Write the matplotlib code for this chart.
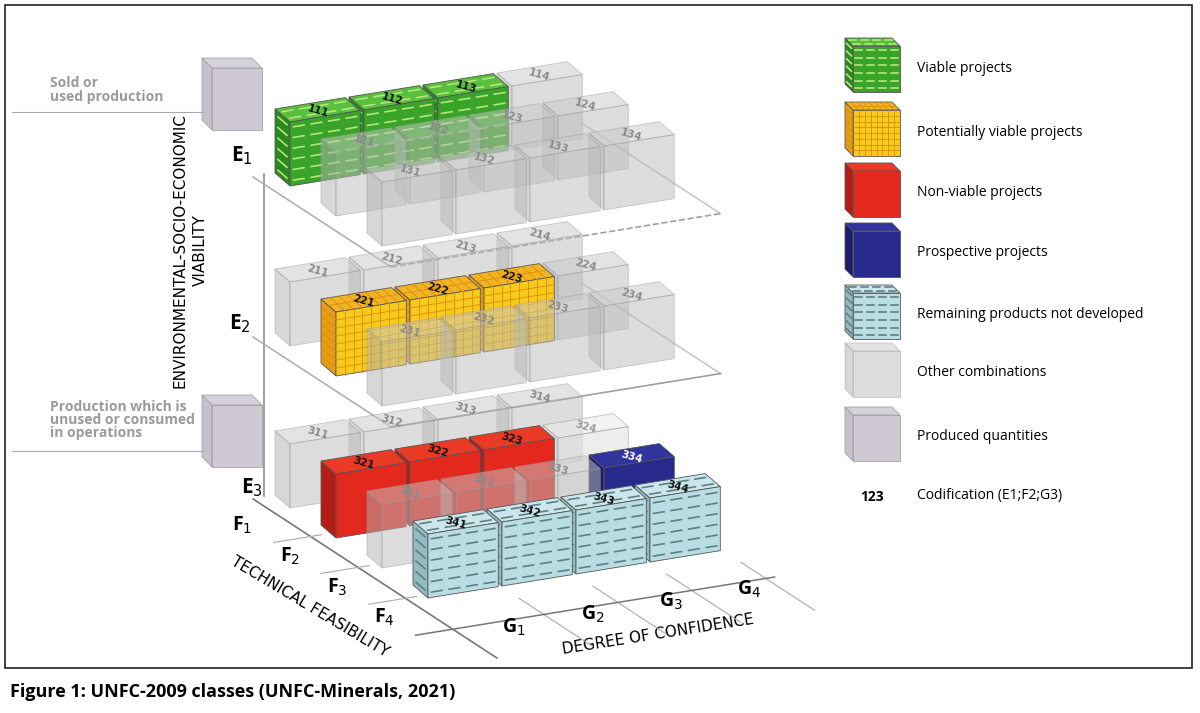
import numpy as np
import matplotlib
matplotlib.use("Agg")
import matplotlib.pyplot as plt
from matplotlib.patches import Polygon, Rectangle

plt.rcParams["font.family"] = ["Open Sans", "DejaVu Sans"]

# ---------------------------------------------------------------
# data: UNFC classes (E level, F rows, G columns) and categories
# ---------------------------------------------------------------
LEVELS = ["E1", "E2", "E3"]
ROWS_PER_LEVEL = [3, 3, 4]          # F rows present on each E level
N_G = 4
VIABLE = ["111", "112", "113"]
POTENTIAL = ["221", "222", "223"]
NON_VIABLE = ["321", "322", "323"]
PROSPECTIVE = ["334"]
REMAINING = ["341", "342", "343", "344"]
LIGHT = ["324"]

LEGEND_LABELS = ["Viable projects", "Potentially viable projects", "Non-viable projects",
                 "Prospective projects", "Remaining products not developed",
                 "Other combinations", "Produced quantities"]
LEGEND_KINDS = ["green", "yellow", "red", "blue", "cyan", "gray", "produced"]

F_LABELS = ["F$_1$", "F$_2$", "F$_3$", "F$_4$"]
G_LABELS = ["G$_1$", "G$_2$", "G$_3$", "G$_4$"]

# ---------------------------------------------------------------
# projection (pixel space, y downwards)
# ---------------------------------------------------------------
G = np.array([74.0, -12.0])
F = np.array([46.0, 30.0])
BASE = {"E1": np.array([290.0, 186.0]),
        "E2": np.array([290.0, 346.0]),
        "E3": np.array([290.0, 508.0])}
H = 64.0
DEPTH = np.array([-15.0, -13.0])

STYLE = {
    "green":  dict(front="#3aa42a", top="#58c03c", left="#2a8a20", alpha=1, pat="dash", pc="#b2e67a"),
    "yellow": dict(front="#f8ca1e", top="#f2b324", left="#e59b14", alpha=1, pat="grid", pc="#d98e00"),
    "red":    dict(front="#e3281e", top="#ea3a26", left="#b31b14", alpha=1, pat=None, pc=None),
    "blue":   dict(front="#27298c", top="#30349c", left="#1b1d6a", alpha=1, pat=None, pc=None),
    "cyan":   dict(front="#b8dde2", top="#cbe7eb", left="#93bcc2", alpha=1, pat="dash", pc="#5f7f86"),
    "gray":   dict(front="#bdbdbd", top="#c8c8c8", left="#b0b0b0", alpha=0.5, pat=None, pc=None),
    "light":  dict(front="#e2e2e2", top="#ececec", left="#d6d6d6", alpha=0.6, pat=None, pc=None),
    "produced": dict(front="#c6c0cc", top="#cfcad4", left="#bdb6c4", alpha=0.85, pat=None, pc=None),
}


def kind_of(code):
    for lst, k in [(VIABLE, "green"), (POTENTIAL, "yellow"), (NON_VIABLE, "red"),
                   (PROSPECTIVE, "blue"), (REMAINING, "cyan"), (LIGHT, "light")]:
        if code in lst:
            return k
    return "gray"


def pattern(ax, o, u, v, nu, nv, kind, color, z):
    if kind == "dash":
        for i in range(nu):
            for j in range(nv):
                a = o + (i + 0.2) / nu * u + (j + 0.5) / nv * v
                b = o + (i + 0.8) / nu * u + (j + 0.5) / nv * v
                ax.plot([a[0], b[0]], [a[1], b[1]], color=color, lw=1.2, zorder=z)
    elif kind == "grid":
        for i in range(1, nu):
            a, b = o + i / nu * u, o + i / nu * u + v
            ax.plot([a[0], b[0]], [a[1], b[1]], color=color, lw=0.6, zorder=z)
        for j in range(1, nv):
            a, b = o + j / nv * v, o + j / nv * v + u
            ax.plot([a[0], b[0]], [a[1], b[1]], color=color, lw=0.6, zorder=z)


def cube(ax, p, wvec, h, d, kind, z, label=None):
    s = STYLE[kind]
    up = np.array([0.0, -h])
    ec = "#9a9a9a" if s["alpha"] < 1 else "#555555"
    lw = 0.6
    faces = [
        ("left", [p, p + up, p + up + d, p + d]),
        ("top", [p + up, p + up + wvec, p + up + wvec + d, p + up + d]),
        ("front", [p, p + wvec, p + wvec + up, p + up]),
    ]
    for name, pts in faces:
        ax.add_patch(Polygon(pts, closed=True, fc=s[name], ec=ec, lw=lw,
                             alpha=s["alpha"], zorder=z))
    if s["pat"]:
        nv = 6 if s["pat"] == "dash" else 8
        nu = 4 if s["pat"] == "dash" else 8
        pattern(ax, p + up, wvec, -up, nu, nv, s["pat"], s["pc"], z + 0.01)
        pattern(ax, p + up, d, -up, 1, nv, s["pat"], s["pc"], z + 0.01)
        pattern(ax, p + up, wvec, d, nu, 2, s["pat"], s["pc"], z + 0.01)
    if label:
        c = p + up + wvec / 2 + d / 2
        col = {"blue": "white", "gray": "#8a8a8a", "light": "#9a9a9a"}.get(kind, "#111111")
        ax.text(c[0], c[1] + 1, label, ha="center", va="center", rotation=-16,
                fontsize=7.5, fontweight="bold", color=col, family="DejaVu Sans",
                zorder=z + 0.02)


def P(level, g, f):
    return BASE[level] + g * G + f * F


fig = plt.figure(figsize=(12, 7.13), dpi=100)
ax = fig.add_axes([0, 0, 1, 1])
ax.set_xlim(0, 1200)
ax.set_ylim(713, 0)
ax.axis("off")

# frame and caption
ax.add_patch(Rectangle((5, 5), 1187, 663, fill=False, ec="#222222", lw=1.2, zorder=0))
ax.text(10, 692, "Figure 1: UNFC-2009 classes (UNFC-Minerals, 2021)", fontsize=13,
        fontweight="bold", va="center", ha="left")

line_c = "#8c8c8c"
# vertical axis
top = P("E1", 0, -0.4) + np.array([-8, 0])
bot = P("E3", 0, -0.4) + np.array([-8, 0])
ax.plot([top[0], bot[0]], [top[1], bot[1]], color=line_c, lw=1.2, zorder=1)

E_OFFSETS = {"E1": (-48, -30), "E2": (-50, -22), "E3": (-38, -20)}

z = 2
for li, level in enumerate(LEVELS):
    nrows = ROWS_PER_LEVEL[li]
    if level != "E3":
        c = [P(level, -0.25, -0.4), P(level, -0.25, nrows - 0.4),
             P(level, 4.2, nrows - 0.4), P(level, 4.2, -0.4)]
        ax.plot([c[0][0], c[1][0]], [c[0][1], c[1][1]], color="#b0b0b0", lw=1.2, zorder=z)
        ax.plot([c[2][0], c[3][0]], [c[2][1], c[3][1]], color="#c8c8c8", lw=1.2, zorder=z)
        ax.plot([c[1][0], c[2][0]], [c[1][1], c[2][1]], color="#a0a0a0", lw=1.2, zorder=z,
                ls="--" if level == "E1" else "-")
    else:
        a, b = P(level, -0.25, -0.4), P(level, -0.25, 4.9)
        ax.plot([a[0], b[0]], [a[1], b[1]], color="#777777", lw=1.2, zorder=z)
        for k in range(4):
            fk = 0.85 + 1.03 * k
            gend = 4.1 if k == 3 else -0.1
            a, b = P(level, -0.75, fk), P(level, gend, fk)
            ax.plot([a[0], b[0]], [a[1], b[1]], color="#777777" if k == 3 else "#aaaaaa",
                    lw=1.1 if k == 3 else 0.8, zorder=z + (30 if k == 3 else 0))
            q = P(level, -0.8, fk - 0.6)
            ax.text(q[0], q[1], F_LABELS[k], fontsize=14, fontweight="bold",
                    ha="center", va="center", zorder=z)
        for k in range(4):
            a, b = P(level, k + 0.98, 3.4), P(level, k + 0.98, 5.0)
            ax.plot([a[0], b[0]], [a[1], b[1]], color="#aaaaaa", lw=0.8, zorder=z)
            q = P(level, k * 1.06 + 0.45, 4.15)
            ax.text(q[0], q[1], G_LABELS[k], fontsize=14, fontweight="bold",
                    ha="center", va="center", zorder=z + 31)
    # E label
    q = BASE[level] + np.array(E_OFFSETS[level])
    ax.text(q[0], q[1], level[0] + "$_" + level[1] + "$", fontsize=15, fontweight="bold",
            ha="center", va="center", zorder=z)
    z += 1
    for f in range(nrows):
        for g in range(N_G - 1, -1, -1):
            code = f"{li + 1}{f + 1}{g + 1}"
            cube(ax, P(level, g, f), 0.95 * G, H, DEPTH, kind_of(code), z, code)
            z += 0.1
    z += 1

# axis titles
ax.text(310, 607, "TECHNICAL FEASIBILITY", rotation=-31, fontsize=11, ha="center",
        va="center", family="Liberation Sans Narrow")
ax.text(658, 634, "DEGREE OF CONFIDENCE", rotation=9, fontsize=11, ha="center",
        va="center", family="Liberation Sans Narrow")
ax.text(190, 250, "ENVIRONMENTAL-SOCIO-ECONOMIC\nVIABILITY", rotation=90, fontsize=11,
        ha="center", va="center", linespacing=1.5, family="Liberation Sans Narrow")

# produced quantities on the left
for ytxt, yl, ycube, txt in [(90, 112, 130, "Sold or\nused production"),
                             (420, 451, 467, "Production which is\nunused or consumed\nin operations")]:
    ax.plot([12, 205], [yl, yl], color="#aaaaaa", lw=0.8, zorder=1)
    ax.text(50, ytxt, txt, fontsize=10, fontweight="bold", color="#9a9a9a",
            va="center", ha="left", linespacing=0.95, zorder=1)
    cube(ax, np.array([212.0, ycube]), np.array([50.0, 0.0]), 62, np.array([-10.0, -10.0]),
         "produced", 1.5)

# legend
leg_y = [68, 132, 193, 253, 315, 373, 437]
for yc, lab, kind in zip(leg_y, LEGEND_LABELS, LEGEND_KINDS):
    cube(ax, np.array([853.0, yc + 24]), np.array([47.0, 0.0]), 46, np.array([-8.0, -8.0]),
         kind, 50)
    ax.text(917, yc, lab, fontsize=10, va="center", ha="left")
ax.text(872, 497, "123", fontsize=10, fontweight="bold", va="center", ha="center")
ax.text(917, 495, "Codification (E1;F2;G3)", fontsize=10, va="center", ha="left")

fig.savefig("out.png", dpi=100)
